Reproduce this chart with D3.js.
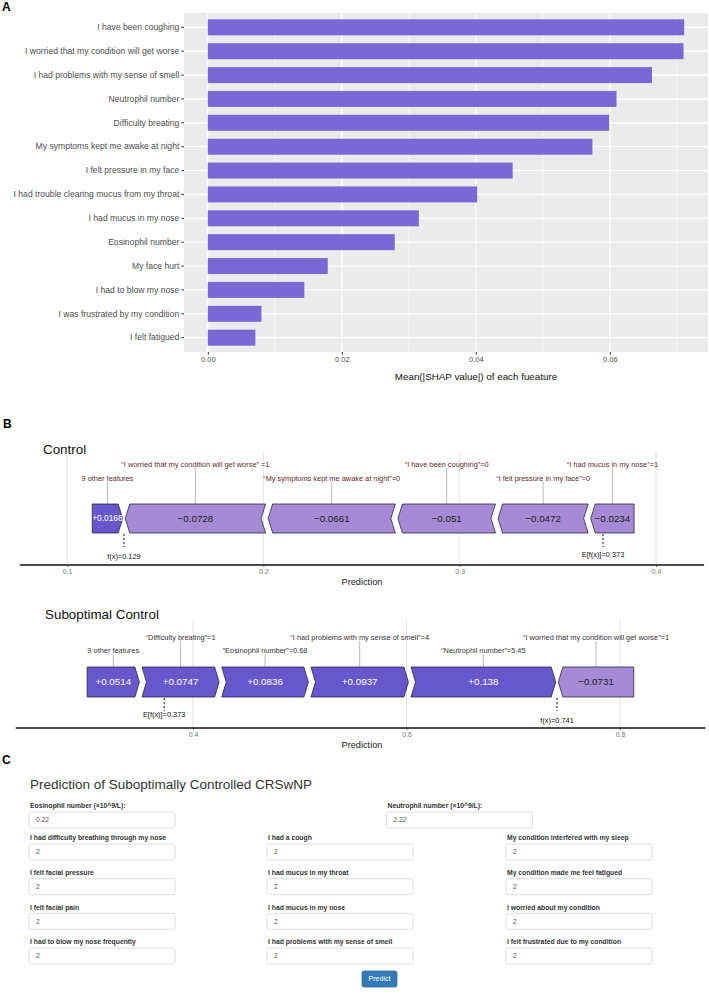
<!DOCTYPE html>
<html>
<head>
<meta charset="utf-8">
<script src="https://cdn.jsdelivr.net/npm/d3@7"></script>
<style>
  body { margin: 0; background: #fff; }
  svg { display: block; font-family: "Liberation Sans", Arial, sans-serif; }
</style>
</head>
<body>
<svg id="fig" width="709" height="1008"></svg>
<script>
// ---------- data ----------
// A: mean |SHAP| per feature (top to bottom)
var featureNames = [
  "I have been coughing",
  "I worried that my condition will get worse",
  "I had problems with my sense of smell",
  "Neutrophil number",
  "Difficulty breating",
  "My symptoms kept me awake at night",
  "I felt pressure in my face",
  "I had trouble clearing mucus from my throat",
  "I had mucus in my nose",
  "Eosinophil number",
  "My face hurt",
  "I had to blow my nose",
  "I was frustrated by my condition",
  "I felt fatigued"
];
var meanShap = [0.0711, 0.0710, 0.0663, 0.0610, 0.0599, 0.0574, 0.0455,
                0.0402, 0.0315, 0.0279, 0.0179, 0.0144, 0.0080, 0.0071];
var shapTicks = [0, 0.02, 0.04, 0.06];
var shapMinor = [0.01, 0.03, 0.05, 0.07];

// B: force plots
var controlLabels = [
  "9 other features",
  "\u201cI worried that my condition will get worse\u201d =1",
  "\u201cMy symptoms kept me awake at night\u201d=0",
  "\u201cI have been coughing\u201d=0",
  "\u201cI felt pressure in my face\u201d=0",
  "\u201cI had mucus in my nose\u201d=1"
];
var controlValues = [0.0168, -0.0728, -0.0661, -0.051, -0.0472, -0.0234];
var controlBase = 0.373;
var controlFx = 0.129;
var controlTicks = [0.1, 0.2, 0.3, 0.4];

var subLabels = [
  "9 other features",
  "\u201cDifficulty breating\u201d=1",
  "\u201cEosinophil number\u201d=0.68",
  "\u201cI had problems with my sense of smell\u201d=4",
  "\u201cNeutrophil number\u201d=5.45",
  "\u201cI worried that my condition will get worse\u201d=1"
];
var subValues = [0.0514, 0.0747, 0.0836, 0.0937, 0.138, -0.0731];
var subBase = 0.373;
var subFx = 0.741;
var subTicks = [0.4, 0.6, 0.8];

// C: web form
var formTitle = "Prediction of Suboptimally Controlled CRSwNP";
var labTopLeft = "Eosinophil number (\u00d710^9/L):";
var labTopRight = "Neutrophil number (\u00d710^9/L):";
var valTopLeft = "0.22";
var valTopRight = "2.22";
var formCol1 = ["I had difficulty breathing through my nose", "I felt facial pressure",
                "I felt facial pain", "I had to blow my nose frequently"];
var formCol2 = ["I had a cough", "I had mucus in my throat",
                "I had mucus in my nose", "I had problems with my sense of smell"];
var formCol3 = ["My condition interfered with my sleep", "My condition made me feel fatigued",
                "I worried about my condition", "I felt frustrated due to my condition"];
var formValue = "2";

var svg = d3.select("#fig");

// panel letters
svg.append("text").attr("x", 2).attr("y", 11).text("A")
  .attr("font-size", "12px").attr("font-weight", "bold");
svg.append("text").attr("x", 3).attr("y", 428).text("B")
  .attr("font-size", "12px").attr("font-weight", "bold");
svg.append("text").attr("x", 2).attr("y", 764).text("C")
  .attr("font-size", "12px").attr("font-weight", "bold");

// ---------- A: bar chart ----------
var maxA = d3.max(meanShap);
var xA = d3.scaleLinear()
  .domain([-0.05 * maxA, 1.05 * maxA])
  .range([184, 708]);
var yA = d3.scaleBand()
  .domain(featureNames)
  .range([13, 352])
  .paddingInner(0.33)
  .paddingOuter(0.265);

var gA = svg.append("g");
gA.append("rect")
  .attr("x", 184).attr("y", 13)
  .attr("width", 708 - 184).attr("height", 352 - 13)
  .attr("fill", "#ebebeb");

// grid lines
gA.selectAll(".minor").data(shapMinor).enter().append("line")
  .attr("x1", function(d) { return xA(d); }).attr("x2", function(d) { return xA(d); })
  .attr("y1", 13).attr("y2", 352)
  .attr("stroke", "#fff").attr("stroke-width", 0.6);
gA.selectAll(".major").data(shapTicks).enter().append("line")
  .attr("x1", function(d) { return xA(d); }).attr("x2", function(d) { return xA(d); })
  .attr("y1", 13).attr("y2", 352)
  .attr("stroke", "#fff").attr("stroke-width", 1.2);
gA.selectAll(".hgrid").data(featureNames).enter().append("line")
  .attr("x1", 184).attr("x2", 708)
  .attr("y1", function(d) { return yA(d) + yA.bandwidth() / 2; })
  .attr("y2", function(d) { return yA(d) + yA.bandwidth() / 2; })
  .attr("stroke", "#fff").attr("stroke-width", 1.2);

// bars
gA.selectAll(".bar")
  .data(featureNames)
  .enter().append("rect")
  .attr("class", "bar")
  .attr("x", xA(0))
  .attr("y", function(d) { return yA(d); })
  .attr("width", function(d, i) { return xA(meanShap[i]) - xA(0); })
  .attr("height", yA.bandwidth())
  .attr("fill", "#7a69d4");

// axes
var yAxisA = gA.append("g")
  .attr("transform", "translate(184,0)")
  .call(d3.axisLeft(yA).tickSize(2.7).tickPadding(2));
yAxisA.select(".domain").remove();
yAxisA.selectAll("line").attr("stroke", "#333");
yAxisA.selectAll("text")
  .attr("font-size", "8.6px").attr("fill", "#4d4d4d")
  .attr("font-family", "Liberation Sans, Arial, sans-serif");

var xAxisA = gA.append("g")
  .attr("transform", "translate(0,352)")
  .call(d3.axisBottom(xA).tickValues(shapTicks).tickFormat(d3.format(".2f")).tickSize(2.7).tickPadding(2));
xAxisA.select(".domain").remove();
xAxisA.selectAll("line").attr("stroke", "#333");
xAxisA.selectAll("text")
  .attr("font-size", "7.6px").attr("fill", "#4d4d4d")
  .attr("font-family", "Liberation Sans, Arial, sans-serif");

gA.append("text")
  .attr("x", 476).attr("y", 380)
  .attr("text-anchor", "middle")
  .attr("font-size", "9.8px").attr("fill", "#111")
  .text("Mean(|SHAP value|) of each fueature");

// ---------- B: force plots ----------
function forcePlot(cfg) {
  var g = svg.append("g");
  var x = d3.scaleLinear().domain(cfg.tickDomain).range(cfg.tickRange);

  g.append("text")
    .attr("x", cfg.titleX).attr("y", cfg.titleY)
    .attr("font-size", "13.4px").attr("fill", "#111")
    .text(cfg.title);

  // long light grid lines at the ticks
  g.selectAll(".grid").data(cfg.ticks).enter().append("line")
    .attr("x1", function(d) { return x(d); }).attr("x2", function(d) { return x(d); })
    .attr("y1", cfg.gridTop).attr("y2", cfg.axisY)
    .attr("stroke", "#dcdcdc").attr("stroke-width", 0.8);

  // axis
  var ax = g.append("g")
    .attr("transform", "translate(0," + cfg.axisY + ")")
    .call(d3.axisBottom(x).tickValues(cfg.ticks).tickFormat(d3.format(".1f")).tickSize(2).tickPadding(2.5));
  ax.select(".domain").remove();
  ax.selectAll("line").attr("stroke", "#888");
  ax.selectAll("text")
    .attr("font-size", "7px").attr("fill", "#777")
    .attr("font-family", "Liberation Sans, Arial, sans-serif");
  g.append("line")
    .attr("x1", x(cfg.lineExtent[0])).attr("x2", x(cfg.lineExtent[1]))
    .attr("y1", cfg.axisY).attr("y2", cfg.axisY)
    .attr("stroke", "#111").attr("stroke-width", 1.3);
  g.append("text")
    .attr("x", 362).attr("y", cfg.axisY + 19.5)
    .attr("text-anchor", "middle")
    .attr("font-size", "9.2px").attr("fill", "#222")
    .text("Prediction");

  // build segments: positive ones end at f(x), negative ones start there
  var pos = [], neg = [];
  cfg.values.forEach(function(v, i) {
    (v > 0 ? pos : neg).push({ v: v, label: cfg.labels[i], i: i });
  });
  var cur = cfg.fx - d3.sum(pos, function(d) { return d.v; });
  pos.forEach(function(d, k) { d.a = cur; d.b = cur + d.v; cur = d.b; d.flat = (k === 0); });
  cur = cfg.fx;
  neg.forEach(function(d, k) { d.a = cur; d.b = cur - d.v; cur = d.b; d.flat = (k === neg.length - 1); });
  var segs = pos.concat(neg);

  var top = cfg.barTop, h = cfg.barH, mid = top + h / 2, bot = top + h;
  var gap = 2.6, ind = 4.5;

  function barPath(d) {
    var L = x(d.a) + gap / 2, R = x(d.b) - gap / 2, pts;
    if (d.v > 0) {
      pts = [[L, top], [R - ind, top], [R, mid], [R - ind, bot], [L, bot]];
      if (!d.flat) pts.push([L + ind, mid]);
    } else {
      pts = [[L + ind, top], [R, top]];
      if (!d.flat) pts.push([R - ind, mid]);
      pts.push([R, bot], [L + ind, bot], [L, mid]);
    }
    return "M" + pts.join("L") + "Z";
  }

  // leader lines and feature labels
  segs.forEach(function(d) {
    d.cx = (x(d.a) + x(d.b)) / 2;
    d.ly = top + (d.i % 2 === 0 ? cfg.lowDy : cfg.highDy);
  });
  g.selectAll(".lead").data(segs).enter().append("line")
    .attr("x1", function(d) { return d.cx; }).attr("y1", function(d) { return d.ly + 4; })
    .attr("x2", function(d) { return d.cx; }).attr("y2", top + 7)
    .attr("stroke", "#9a9a9a").attr("stroke-width", 0.7);

  g.selectAll(".bar").data(segs).enter().append("path")
    .attr("d", barPath)
    .attr("fill", function(d) { return d.v > 0 ? "#6856cc" : "#a68ad5"; })
    .attr("stroke", "#2a2a3a").attr("stroke-width", 0.8);

  g.selectAll(".val").data(segs).enter().append("text")
    .attr("x", function(d) { return d.cx; })
    .attr("y", mid)
    .attr("dy", "0.35em")
    .attr("text-anchor", "middle")
    .attr("font-size", function(d) { return (x(d.b) - x(d.a)) < 40 ? "8.4px" : "9.8px"; })
    .attr("fill", function(d) { return d.v > 0 ? "#fff" : "#222"; })
    .text(function(d) { return d.v > 0 ? "+" + d.v : "\u2212" + (-d.v); });

  g.selectAll(".lab").data(segs).enter().append("text")
    .attr("x", function(d) { return d.cx; })
    .attr("y", function(d) { return d.ly; })
    .attr("dy", "0.35em")
    .attr("text-anchor", "middle")
    .attr("font-size", "7.4px").attr("fill", cfg.labelColor)
    .text(function(d) { return d.label; });

  // f(x) and base value markers
  var marks = [
    { v: cfg.fx, t: "f(x)=" + cfg.fx, dy: 23 },
    { v: cfg.base, t: "E[f(x)]=" + cfg.base, dy: cfg.baseDy }
  ];
  g.selectAll(".mk").data(marks).enter().append("line")
    .attr("x1", function(d) { return x(d.v); }).attr("x2", function(d) { return x(d.v); })
    .attr("y1", bot + 1).attr("y2", bot + 14)
    .attr("stroke", "#111").attr("stroke-width", 1).attr("stroke-dasharray", "2.2,1.8");
  g.selectAll(".mkt").data(marks).enter().append("text")
    .attr("x", function(d) { return x(d.v); })
    .attr("y", function(d) { return bot + d.dy; })
    .attr("dy", "0.35em")
    .attr("text-anchor", "middle")
    .attr("font-size", "7.4px").attr("fill", "#111")
    .text(function(d) { return d.t; });
}

forcePlot({
  title: "Control", titleX: 43, titleY: 454,
  labels: controlLabels, values: controlValues, base: controlBase, fx: controlFx,
  ticks: controlTicks, tickDomain: [0.1, 0.4], tickRange: [67, 656],
  lineExtent: [0.076, 0.4245],
  gridTop: 452, axisY: 565, barTop: 504, barH: 29,
  lowDy: -26, highDy: -40, baseDy: 21, labelColor: "#5a2a2a"
});

forcePlot({
  title: "Suboptimal Control", titleX: 45, titleY: 619,
  labels: subLabels, values: subValues, base: subBase, fx: subFx,
  ticks: subTicks, tickDomain: [0.4, 0.8], tickRange: [193, 620],
  lineExtent: [0.234, 0.88],
  gridTop: 620, axisY: 728, barTop: 667, barH: 30,
  lowDy: -17, highDy: -30, baseDy: 17, labelColor: "#333"
});

// ---------- C: form ----------
var gC = svg.append("g");
gC.append("text")
  .attr("x", 30).attr("y", 789)
  .attr("font-size", "13.5px").attr("fill", "#333")
  .text(formTitle);

var colX = [29, 267, 506];
var inputW = 146, inputH = 16;

function field(x, labelY, label, value) {
  gC.append("text")
    .attr("x", x + 1).attr("y", labelY).attr("dy", "0.35em")
    .attr("font-size", "6.8px").attr("font-weight", "bold").attr("fill", "#333")
    .text(label);
  gC.append("rect")
    .attr("x", x).attr("y", labelY + 6)
    .attr("width", inputW).attr("height", inputH)
    .attr("rx", 2)
    .attr("fill", "#fff").attr("stroke", "#d4d4d4").attr("stroke-width", 0.8);
  gC.append("text")
    .attr("x", x + 7).attr("y", labelY + 6 + inputH / 2).attr("dy", "0.35em")
    .attr("font-size", "6.6px").attr("fill", "#555")
    .text(value);
}

field(colX[0], 806, labTopLeft, valTopLeft);
field((colX[1] + colX[2]) / 2, 806, labTopRight, valTopRight);

var rowY = d3.scalePoint().domain(d3.range(4)).range([838, 942]);
[formCol1, formCol2, formCol3].forEach(function(col, c) {
  col.forEach(function(lab, r) {
    field(colX[c], rowY(r), lab, formValue);
  });
});

gC.append("rect")
  .attr("x", 362).attr("y", 971).attr("width", 35).attr("height", 16)
  .attr("rx", 2).attr("fill", "#337ab7").attr("stroke", "#2e6da4").attr("stroke-width", 0.8);
gC.append("text")
  .attr("x", 379.5).attr("y", 979).attr("dy", "0.35em")
  .attr("text-anchor", "middle")
  .attr("font-size", "7px").attr("fill", "#fff")
  .text("Predict");
</script>
</body>
</html>
